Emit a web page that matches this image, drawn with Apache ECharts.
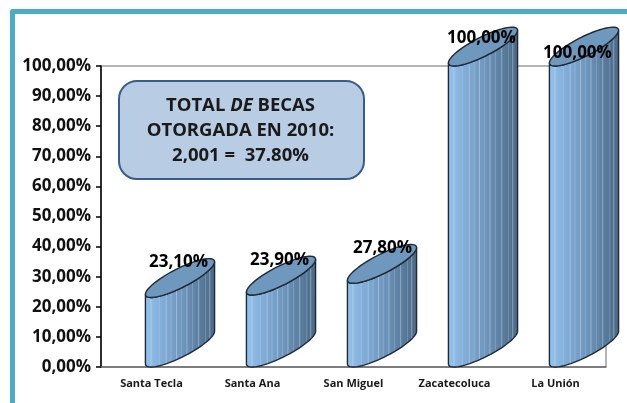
<!DOCTYPE html>
<html>
<head>
<meta charset="utf-8">
<style>html,body{margin:0;padding:0;background:#fff}#main{width:627px;height:403px}</style>
<script src="https://cdn.jsdelivr.net/npm/echarts@6/dist/echarts.min.js"></script>
</head>
<body>
<div id="main"></div>
<script>
var categories = ['Santa Tecla', 'Santa Ana', 'San Miguel', 'Zacatecoluca', 'La Unión'];
var values = [23.1, 23.9, 27.8, 100, 100];
var valueLabels = ['23,10%', '23,90%', '27,80%', '100,00%', '100,00%'];
var yTicks = ['0,00%', '10,00%', '20,00%', '30,00%', '40,00%', '50,00%', '60,00%', '70,00%', '80,00%', '90,00%', '100,00%'];

// label placement, pixels from the value position
var labelDx = [27, 27, 29, 27, 22];
var labelDy = [-35, -35, -35, -28, -13];

// slanted ellipse of each cylinder
var A = 38.5, B = 9.5, PHI = 27 * Math.PI / 180;
var stripes = [0.08, 0.2, 0.3, 0.37, 0.45, 0.52, 0.6, 0.68, 0.77, 0.87, 0.93];

function lowerCurve(cx, cy) {
	var t0 = Math.atan2(B * Math.sin(PHI), A * Math.cos(PHI));
	var pts = [];
	for (var i = 0; i <= 40; i++) {
		var t = t0 + Math.PI * i / 40;
		pts.push([
			cx + A * Math.cos(t) * Math.cos(PHI) + B * Math.sin(t) * Math.sin(PHI),
			cy - A * Math.cos(t) * Math.sin(PHI) + B * Math.sin(t) * Math.cos(PHI)
		]);
	}
	return pts; // right to left
}

function yAt(curve, x) {
	for (var i = 1; i < curve.length; i++) {
		if (x <= curve[i - 1][0] && x >= curve[i][0]) {
			var f = (curve[i - 1][0] - x) / (curve[i - 1][0] - curve[i][0] || 1);
			return curve[i - 1][1] + f * (curve[i][1] - curve[i - 1][1]);
		}
	}
	return curve[0][1];
}

function renderCylinder(params, api) {
	var idx = params.dataIndex;
	var top = api.coord([api.value(0), api.value(1)]);
	var base = api.coord([api.value(0), 0]);
	var ext = Math.sqrt(A * A * Math.sin(PHI) * Math.sin(PHI) + B * B * Math.cos(PHI) * Math.cos(PHI));
	var cx = top[0] + 28.5;
	var topCurve = lowerCurve(cx, top[1] - ext);
	var baseCurve = lowerCurve(cx, base[1] - ext);
	var body = baseCurve.slice().reverse().concat(topCurve);
	var ellipse = topCurve.concat(topCurve.map(function (p) {
		return [2 * cx - p[0], 2 * (top[1] - ext) - p[1]];
	}));
	var left = baseCurve[baseCurve.length - 1][0], right = baseCurve[0][0];
	var children = [{
		type: 'polygon',
		shape: { points: body },
		style: {
			fill: new echarts.graphic.LinearGradient(0, 0, 1, 0, [
				{ offset: 0, color: '#93c3ec' },
				{ offset: 0.22, color: '#83aed9' },
				{ offset: 0.55, color: '#6d94bb' },
				{ offset: 0.85, color: '#557797' },
				{ offset: 1, color: '#4d6a87' }
			]),
			stroke: 'none'
		}
	}];
	stripes.forEach(function (s, i) {
		var x = left + s * (right - left);
		children.push({
			type: 'line',
			shape: { x1: x, y1: yAt(topCurve, x), x2: x, y2: yAt(baseCurve, x) },
			style: { stroke: 'rgba(225,238,250,' + (i % 2 ? 0.22 : 0.38) + ')', lineWidth: 1 }
		});
	});
	children.push({
		type: 'polygon',
		shape: { points: body },
		style: { fill: 'none', stroke: '#1f2a36', lineWidth: 1.4 }
	});
	children.push({
		type: 'polygon',
		shape: { points: ellipse },
		style: { fill: '#6f98bf', stroke: '#1f2a36', lineWidth: 1.4 }
	});
	children.push({
		type: 'text',
		style: {
			text: valueLabels[idx],
			x: top[0] + labelDx[idx],
			y: top[1] + labelDy[idx],
			align: 'center',
			verticalAlign: 'middle',
			font: 'bold 17px "Open Sans"',
			fill: '#000'
		}
	});
	return { type: 'group', children: children };
}

var myChart = echarts.init(document.getElementById('main'), null, { renderer: 'canvas' });
var option = {
	animation: false,
	backgroundColor: '#fff',
	grid: { left: 101, right: 21, top: 66, bottom: 36, show: true, borderColor: '#6b6b6b', borderWidth: 1, backgroundColor: 'transparent' },
	xAxis: {
		type: 'category',
		data: categories,
		axisTick: { show: false },
		axisLine: { lineStyle: { color: '#6b6b6b', width: 1.5 } },
		axisLabel: { margin: 11, fontFamily: 'Open Sans', fontWeight: 'bold', fontSize: 11, color: '#1a1a1a', interval: 0 }
	},
	yAxis: {
		type: 'value',
		min: 0,
		max: 100,
		interval: 10,
		splitLine: { show: false },
		axisLine: { show: true, lineStyle: { color: '#000', width: 1.5 } },
		axisTick: { show: true, length: 5, lineStyle: { color: '#000', width: 1.5 } },
		axisLabel: {
			margin: 10,
			fontFamily: 'Open Sans',
			fontWeight: 'bold',
			fontSize: 17,
			color: '#111',
			formatter: function (v) { return yTicks[Math.round(v / 10)]; }
		}
	},
	graphic: [
		{ type: 'polyline', shape: { points: [[12.5, 403], [12.5, 11.5], [627, 11.5]] }, style: { fill: 'none', stroke: '#4bacc6', lineWidth: 5, lineJoin: 'round' }, silent: true },
		{
			type: 'rect', z: 10, left: 118, top: 80,
			shape: { width: 245, height: 98, r: 18 },
			style: { fill: '#b8cce4', stroke: '#385d8a', lineWidth: 2 }
		},
		{
			type: 'text', z: 11,
			style: {
				x: 240.5,
				y: 93,
				align: 'center',
				verticalAlign: 'top',
				lineHeight: 25,
				rich: {
					b: { font: 'bold 18.5px "Open Sans"', fill: '#1a1a1a', lineHeight: 25 },
					i: { font: 'italic bold 18.5px "Open Sans"', fill: '#1a1a1a', lineHeight: 25 }
				},
				text: '{b|TOTAL }{i|DE}{b| BECAS}\n{b|OTORGADA EN 2010:}\n{b|2,001 =  37.80%}'
			}
		}
	],
	series: [{
		type: 'custom',
		renderItem: renderCylinder,
		clip: false,
		data: values.map(function (v, i) { return [i, v]; }),
		encode: { x: 0, y: 1 }
	}]
};
myChart.setOption(option);
</script>
</body>
</html>
